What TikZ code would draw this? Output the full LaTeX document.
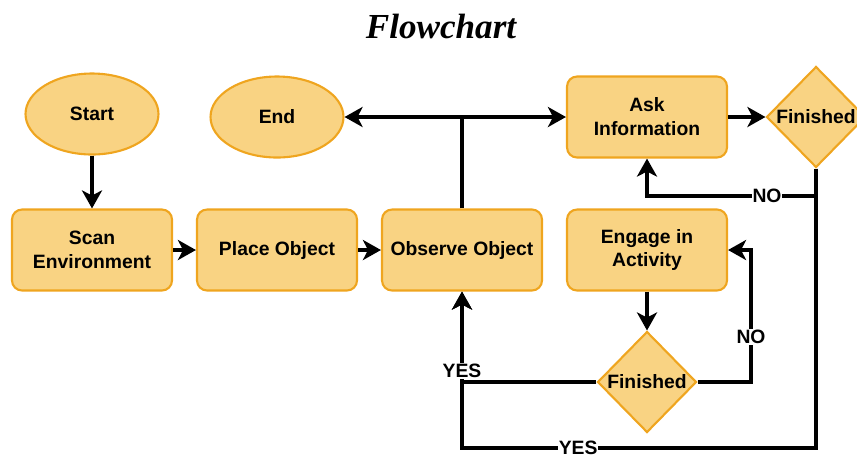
\documentclass[tikz,border=0pt]{standalone}
\usepackage{fontspec}
\setmainfont{Liberation Sans}
\newfontfamily\titlefont{Liberation Serif}
\usetikzlibrary{shapes.geometric,arrows.meta}

\definecolor{boxfill}{HTML}{F9D383}
\definecolor{boxline}{HTML}{EFA51F}

\begin{document}
\begin{tikzpicture}[
    x=0.02cm, y=-0.02cm,
    base/.style={draw=boxline, line width=1.2pt, fill=boxfill, align=center, font=\fontsize{11}{13.6}\selectfont\bfseries},
    box/.style={base, rectangle, rounded corners=0.2cm, minimum width=3.2cm, minimum height=1.62cm},
    term/.style={base, ellipse, minimum width=2.66cm, minimum height=1.62cm},
    decision/.style={base, diamond, inner sep=0pt, minimum width=1.98cm, minimum height=2.02cm},
    line/.style={line width=2pt},
    arr/.style={line, -{Stealth[length=0.36cm, width=0.4cm, inset=0.1cm]}},
    tag/.style={fill=white, inner sep=0.5pt, font=\fontsize{11}{13}\selectfont\bfseries}
]
\useasboundingbox (0,0) rectangle (857,458);

\node[font=\titlefont\fontsize{20}{24}\selectfont\bfseries\itshape, anchor=base] (title) at (441,38) {Flowchart};

% top row
\node[term] (start) at (92,114) {Start};
\node[term] (end) at (277,117) {End};
\node[box] (ask) at (647,117) {Ask\\Information};
\node[decision] (fin1) at (816,117) {Finished};

% middle row
\node[box] (scan) at (92,250) {Scan\\Environment};
\node[box] (place) at (277,250) {Place Object};
\node[box] (observe) at (462,250) {Observe Object};
\node[box] (engage) at (647,250) {Engage in\\Activity};

% bottom
\node[decision] (fin2) at (647,382) {Finished};

\coordinate (split) at (462,117);
\coordinate (noleft) at (816,196);
\coordinate (noright) at (751,250);
\coordinate (yescorner) at (462,448);

\draw[arr] (start) -- (scan);
\draw[arr] (scan) -- (place);
\draw[arr] (place) -- (observe);
\draw[line] (observe.north) -- (split);
\draw[arr] (split) -- (end);
\draw[arr] (split) -- (ask);
\draw[arr] (ask) -- (fin1);
\draw[arr] (engage) -- (fin2);

% answers
\draw[arr] (fin1.south) -- (noleft) -| node[tag, pos=0.145] {NO} (ask.south);
\draw[arr] (fin1.south) |- node[tag, pos=0.836] {YES} (yescorner) -- (observe.south);
\draw[arr] (fin2.east) -| node[tag, pos=0.67] {NO} (noright) -- (engage.east);
\draw[arr] (fin2.west) -| node[tag, pos=0.5, yshift=0.22cm] {YES} (observe.south);
\end{tikzpicture}
\end{document}
